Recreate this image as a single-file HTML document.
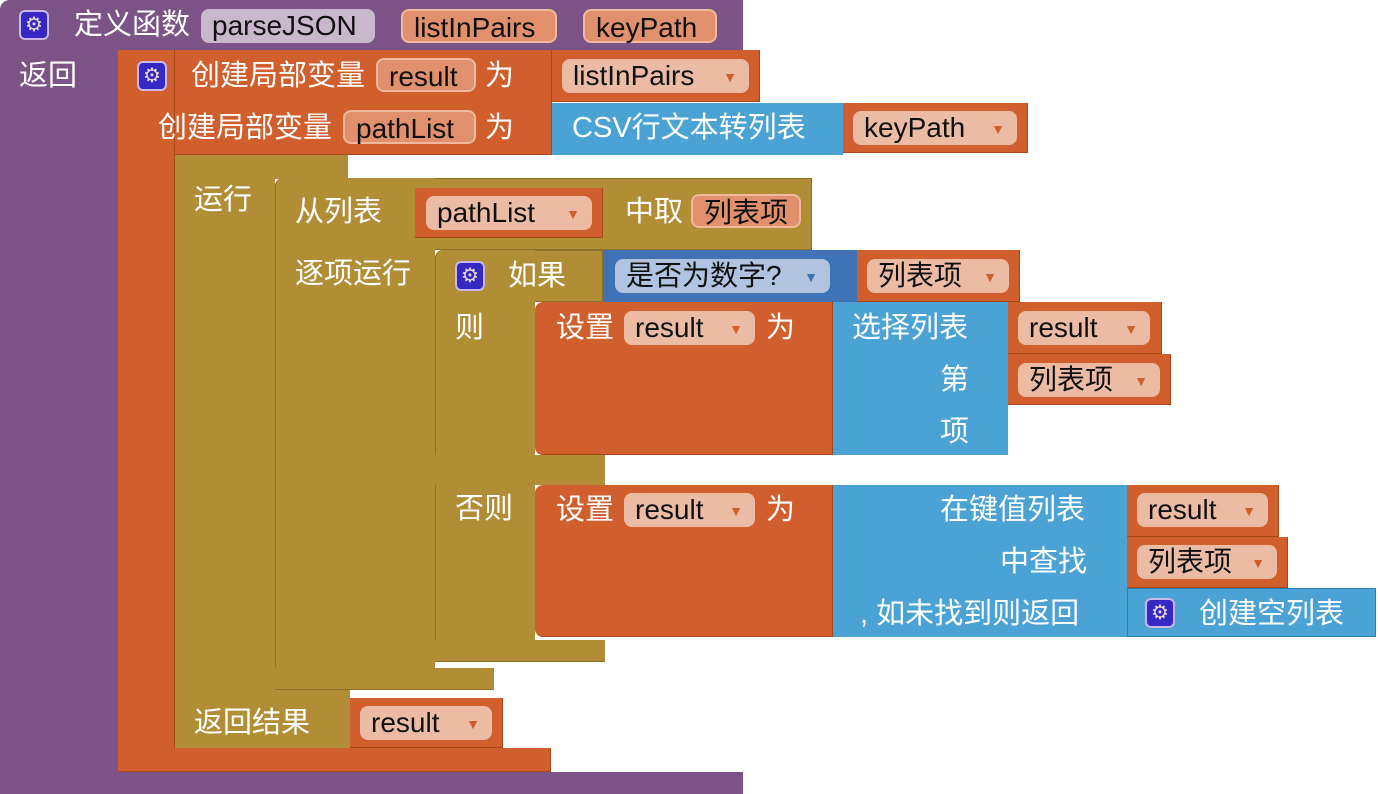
<!DOCTYPE html>
<html><head><meta charset="utf-8"><style>
body{margin:0;width:1378px;height:794px;background:#fff;position:relative;overflow:hidden;font-family:"Liberation Sans","Noto Sans CJK SC",sans-serif;}
div{position:absolute;box-sizing:border-box;}
.t{color:#fff;font-size:29px;line-height:30px;white-space:nowrap;}
.p{background:#ebbba4;color:#111;font-size:28px;line-height:34px;height:34px;border-radius:8px;padding-left:11px;white-space:nowrap;}
.p i{font-style:normal;color:#d05f2d;font-size:14px;position:absolute;right:12px;top:1px}
.pu{background:#7b5387}.or{background:#d05f2d;border-right:1px solid #a84718;border-bottom:1px solid #a84718}
.ol{background:#b18e35}.bl{background:#4aa3d4}.db{background:#3f72b6}
.g{width:30px;height:30px;border-radius:6px;background:#3528c4;border:2px solid #c9b8e8;color:#e8d8c8;font-size:20px;line-height:26px;text-align:center}
</style></head><body>
<!-- purple procedure -->
<div class="pu" style="left:0;top:0;width:743px;height:50px;border-radius:10px 0 0 0"></div>
<div class="pu" style="left:0;top:0;width:118px;height:794px;border-radius:10px 0 0 0"></div>
<div class="pu" style="left:0;top:772px;width:743px;height:22px"></div>
<div class="g" style="left:19px;top:10px">⚙</div>
<div class="t" style="left:74px;top:10px">定义函数</div>
<div class="p" style="left:201px;top:9px;width:174px;background:#c9b8cc">parseJSON</div>
<div class="p" style="left:401px;top:9px;width:156px;background:#e0906c;border:2px solid #f0b89c">listInPairs</div>
<div class="p" style="left:583px;top:9px;width:134px;background:#e0906c;border:2px solid #f0b89c">keyPath</div>
<div class="t" style="left:19px;top:61px">返回</div>
<!-- orange local var -->
<div class="or" style="left:118px;top:50px;width:434px;height:105px"></div>
<div class="or" style="left:118px;top:50px;width:57px;height:722px"></div>
<div class="or" style="left:118px;top:748px;width:433px;height:24px"></div>
<div class="g" style="left:137px;top:61px">⚙</div>
<div class="t" style="left:191px;top:61px">创建局部变量</div>
<div class="p" style="left:376px;top:58px;width:100px;background:#e0906c;border:2px solid #f0b89c">result</div>
<div class="t" style="left:485px;top:61px">为</div>
<div class="t" style="left:158px;top:113px">创建局部变量</div>
<div class="p" style="left:343px;top:110px;width:133px;background:#e0906c;border:2px solid #f0b89c">pathList</div>
<div class="t" style="left:485px;top:113px">为</div>
<div class="or" style="left:552px;top:50px;width:208px;height:52px"></div>
<div class="p" style="left:562px;top:59px;width:187px">listInPairs<i>▼</i></div>
<div class="bl" style="left:552px;top:103px;width:291px;height:52px"></div>
<div class="t" style="left:572px;top:113px">CSV行文本转列表</div>
<div class="or" style="left:843px;top:103px;width:185px;height:50px"></div>
<div class="p" style="left:853px;top:111px;width:164px">keyPath<i>▼</i></div>
<!-- do/result -->
<div class="ol" style="left:175px;top:155px;width:173px;height:24px"></div>
<div class="ol" style="left:175px;top:155px;width:100px;height:593px"></div>
<div class="ol" style="left:175px;top:690px;width:175px;height:58px"></div>
<div class="t" style="left:194px;top:185px">运行</div>
<div class="t" style="left:194px;top:708px">返回结果</div>
<div class="or" style="left:350px;top:698px;width:153px;height:50px"></div>
<div class="p" style="left:360px;top:706px;width:132px">result<i>▼</i></div>
<!-- for each -->
<div class="ol" style="left:275px;top:178px;width:537px;height:72px;border-radius:8px 0 0 0;border:1px solid #8e7128"></div>
<div class="ol" style="left:275px;top:178px;width:160px;height:512px;border-radius:8px 0 0 8px;border-left:1px solid #8e7128"></div>
<div class="ol" style="left:275px;top:668px;width:219px;height:22px;border-bottom:1px solid #8e7128"></div>
<div class="t" style="left:295px;top:197px">从列表</div>
<div class="or" style="left:415px;top:188px;width:188px;height:50px"></div>
<div class="p" style="left:426px;top:196px;width:166px">pathList<i>▼</i></div>
<div class="t" style="left:625px;top:197px">中取</div>
<div class="p" style="left:691px;top:194px;width:110px;background:#e0906c;border:2px solid #f0b89c">列表项</div>
<div class="t" style="left:295px;top:259px">逐项运行</div>
<!-- if -->
<div class="ol" style="left:435px;top:250px;width:168px;height:52px;border-radius:8px 0 0 0;border:1px solid #8e7128"></div>
<div class="ol" style="left:435px;top:250px;width:100px;height:412px;border-radius:8px 0 0 8px;border-left:1px solid #8e7128"></div>
<div class="ol" style="left:435px;top:455px;width:170px;height:30px"></div>
<div class="ol" style="left:435px;top:640px;width:170px;height:22px;border-bottom:1px solid #8e7128"></div>
<div class="g" style="left:455px;top:261px">⚙</div>
<div class="t" style="left:508px;top:261px">如果</div>
<div class="t" style="left:455px;top:313px">则</div>
<div class="t" style="left:455px;top:494px">否则</div>
<div class="db" style="left:603px;top:250px;width:254px;height:52px"></div>
<div class="p" style="left:615px;top:259px;width:215px;background:#b0c4e0">是否为数字?<i style="color:#3f72b6">▼</i></div>
<div class="or" style="left:857px;top:250px;width:163px;height:52px"></div>
<div class="p" style="left:867px;top:259px;width:142px">列表项<i>▼</i></div>
<!-- set 1 -->
<div class="or" style="left:535px;top:302px;width:298px;height:153px;border-radius:8px 0 0 8px"></div>
<div class="t" style="left:556px;top:313px">设置</div>
<div class="p" style="left:624px;top:311px;width:131px">result<i>▼</i></div>
<div class="t" style="left:766px;top:313px">为</div>
<div class="bl" style="left:833px;top:302px;width:175px;height:153px"></div>
<div class="t" style="left:852px;top:313px">选择列表</div>
<div class="t" style="left:940px;top:365px">第</div>
<div class="t" style="left:940px;top:417px">项</div>
<div class="or" style="left:1008px;top:302px;width:154px;height:52px"></div>
<div class="p" style="left:1018px;top:311px;width:132px">result<i>▼</i></div>
<div class="or" style="left:1008px;top:354px;width:163px;height:51px"></div>
<div class="p" style="left:1018px;top:363px;width:142px">列表项<i>▼</i></div>
<!-- set 2 -->
<div class="or" style="left:535px;top:485px;width:298px;height:152px;border-radius:8px 0 0 8px"></div>
<div class="t" style="left:556px;top:495px">设置</div>
<div class="p" style="left:624px;top:493px;width:131px">result<i>▼</i></div>
<div class="t" style="left:766px;top:495px">为</div>
<div class="bl" style="left:833px;top:485px;width:294px;height:152px"></div>
<div class="t" style="left:940px;top:495px">在键值列表</div>
<div class="t" style="left:1000px;top:547px">中查找</div>
<div class="t" style="left:860px;top:599px">, 如未找到则返回</div>
<div class="or" style="left:1127px;top:485px;width:152px;height:52px"></div>
<div class="p" style="left:1137px;top:493px;width:131px">result<i>▼</i></div>
<div class="or" style="left:1127px;top:537px;width:161px;height:51px"></div>
<div class="p" style="left:1137px;top:545px;width:140px">列表项<i>▼</i></div>
<div class="bl" style="left:1127px;top:588px;width:249px;height:49px;border:1px solid #2f7fb0"></div>
<div class="g" style="left:1145px;top:598px">⚙</div>
<div class="t" style="left:1199px;top:599px">创建空列表</div>
</body></html>
